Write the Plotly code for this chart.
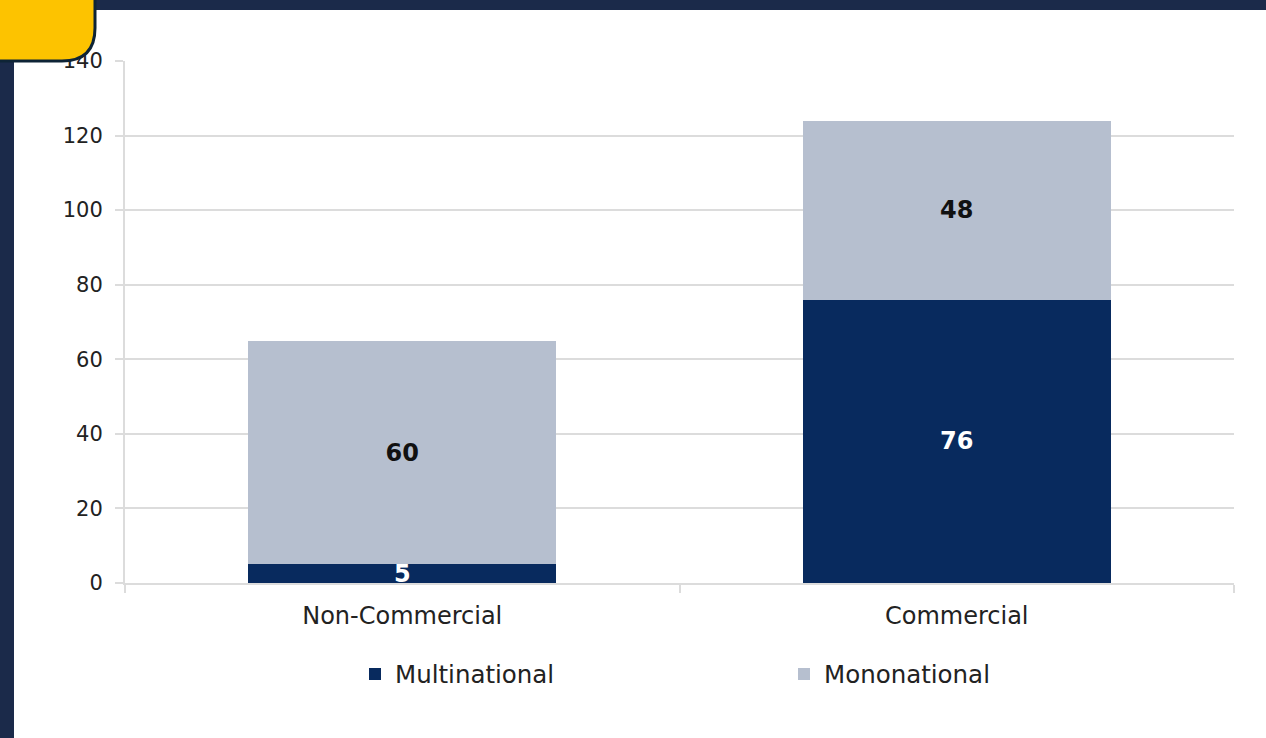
import plotly.graph_objects as go

# Data
categories = ["Non-Commercial", "Commercial"]
multinational = [5, 76]
mononational = [60, 48]
y_ticks = [0, 20, 40, 60, 80, 100, 120, 140]

NAVY = "#082a5e"
GREY = "#b6bfcf"
FRAME = "#1b2a4a"
YELLOW = "#fdc300"
GRID = "#dcdcdc"

W, H = 1266, 738
M_L, M_R, M_T, M_B = 125, 32, 61, 155
PW, PH = W - M_L - M_R, H - M_T - M_B


def px_x(x):
    return (x - M_L) / PW


def px_y(y):
    return (H - M_B - y) / PH


fig = go.Figure()
fig.add_trace(go.Bar(
    x=categories, y=multinational, name="Multinational",
    marker=dict(color=NAVY, line=dict(width=0)),
    text=[str(v) for v in multinational], textposition="inside",
    insidetextanchor="middle", textangle=0,
    textfont=dict(family="DejaVu Sans", size=24, color="white", weight="bold"),
))
fig.add_trace(go.Bar(
    x=categories, y=mononational, name="Mononational",
    marker=dict(color=GREY, line=dict(width=0)),
    text=[str(v) for v in mononational], textposition="inside",
    insidetextanchor="middle", textangle=0,
    textfont=dict(family="DejaVu Sans", size=24, color="#111111", weight="bold"),
))

shapes = [
    # dark frame strips
    dict(type="rect", xref="paper", yref="paper", layer="below",
         x0=px_x(0), x1=px_x(14), y0=px_y(H), y1=px_y(0),
         fillcolor=FRAME, line=dict(width=0)),
    dict(type="rect", xref="paper", yref="paper", layer="below",
         x0=px_x(0), x1=px_x(W), y0=px_y(10), y1=px_y(0),
         fillcolor=FRAME, line=dict(width=0)),
    # yellow tab in the corner
    dict(type="path", xref="paper", yref="paper", layer="above",
         xsizemode="pixel", ysizemode="pixel", xanchor=0, yanchor=1,
         path="M -135,70 L -30,70 L -30,33 Q -30,0 -63,0 L -135,0 Z",
         fillcolor=YELLOW, line=dict(color="#0e2436", width=3)),
]

fig.update_layout(
    width=W, height=H,
    margin=dict(l=M_L, r=M_R, t=M_T, b=M_B),
    barmode="stack", bargap=0.445,
    paper_bgcolor="white", plot_bgcolor="white",
    font=dict(family="DejaVu Sans", color="#222222"),
    uniformtext=dict(minsize=24, mode="show"),
    showlegend=True,
    legend=dict(orientation="h", x=px_x(355), xanchor="left",
                y=px_y(674), yanchor="middle",
                font=dict(size=24.5, color="#222222"),
                entrywidth=384, traceorder="normal",
                bgcolor="rgba(0,0,0,0)"),
    xaxis=dict(showgrid=False, showline=True, linecolor=GRID, linewidth=2,
               ticks="outside", tickson="boundaries", ticklen=8,
               tickcolor=GRID, tickwidth=2, ticklabelstandoff=10,
               tickfont=dict(size=24, color="#222222")),
    yaxis=dict(range=[0, 140], tickvals=y_ticks, showgrid=True,
               gridcolor=GRID, gridwidth=2, showline=True, linecolor=GRID,
               linewidth=2, ticks="outside", ticklen=8, tickcolor=GRID,
               tickwidth=2, zeroline=False, ticklabelstandoff=8,
               tickfont=dict(size=21, color="#222222")),
    shapes=shapes,
)

fig.write_html("out.html")
